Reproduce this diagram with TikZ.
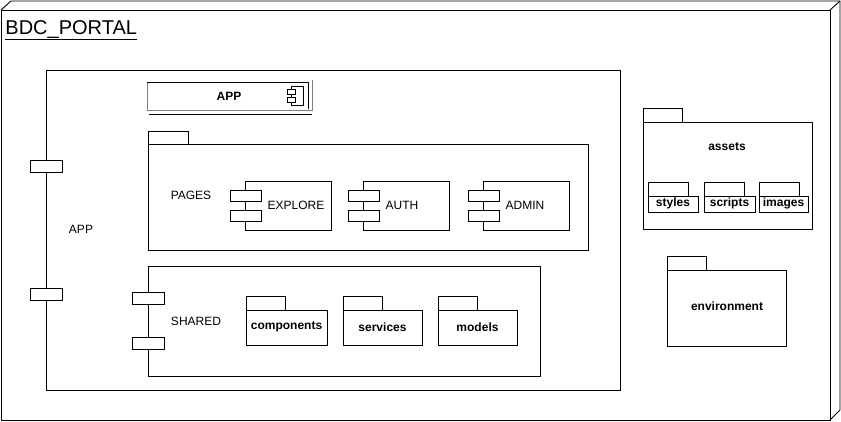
\documentclass[tikz,border=0pt]{standalone}
\usepackage{fontspec}
\setmainfont{Liberation Sans}
\usepackage{tikz}
\usetikzlibrary{
  positioning,
  arrows.meta
}
\usepackage{xcolor}

\begin{document}
\begin{tikzpicture}[x=1pt,y=-1pt,line width=0.9pt,
                lbl/.style={font=\fontsize{12}{14}\selectfont,inner sep=0pt},
                blbl/.style={font=\fontsize{12}{14}\selectfont\bfseries,inner sep=0pt},
                port/.style={draw,fill=white,line width=0.9pt}]
                \useasboundingbox (0,0) rectangle (841,421);
                % node BDC_PORTAL
                \draw (1,10) -- (11,1) -- (840,1) -- (840,410) -- (830,420);
                \draw (830,10) -- (840,1);
                \draw (1,10) rectangle (830,420);
                \node[anchor=base west,inner sep=0pt,font=\fontsize{20}{24}\selectfont] (portal) at (5,34) {\underline{BDC\_PORTAL}};
                % component APP
                \draw (46,70) rectangle (620,390);
                \draw[port] (30,160) rectangle (62,172);
                \draw[port] (30,288) rectangle (62,300);
                \node[lbl] (app) at (81,229) {APP};
                % APP module
                \draw[gray] (147,82) -- (147,110) -- (312,110) -- (312,80);
                \draw (147,82) -- (308,82) -- (308,109);
                \draw (149,114) -- (312,114);
                \draw[line width=0.8pt] (291,86) rectangle (303,105);
                \draw[port,line width=0.8pt] (287,89) rectangle (295,94);
                \draw[port,line width=0.8pt] (287,97) rectangle (295,102);
                \node[blbl] (appmod) at (229,96) {APP};
                % PAGES
                \draw (148,131) rectangle (188,144);
                \draw (148,144) rectangle (588,250);
                \node[lbl] (pages) at (191,195) {PAGES};
                \foreach \bx/\nm/\tx/\lx in {245/explore/EXPLORE/296, 363/auth/AUTH/402, 483/admin/ADMIN/525} {
                    \draw (\bx,181) rectangle ++(86,49);
                    \draw[port] (\bx-15,190) rectangle ++(31,11);
                    \draw[port] (\bx-15,210) rectangle ++(31,11);
                    \node[lbl] (\nm) at (\lx,205) {\tx};
                }
                % SHARED
                \draw (148,266) rectangle (540,376);
                \draw[port] (132,292) rectangle (164,304);
                \draw[port] (132,337) rectangle (164,349);
                \node[lbl] (shared) at (196,321) {SHARED};
                \foreach \px/\pw/\nm in {246/81/components, 343/79/services, 438/79/models} {
                    \draw (\px,296) rectangle ++(39,14);
                    \draw (\px,310) rectangle ++(\pw,35);
                    \node[blbl] (\nm) at (\px+\pw/2,327) {\nm};
                }
                % assets
                \draw (643,108) rectangle (682,122);
                \draw (643,122) rectangle (812,229);
                \node[blbl] (assets) at (727,147) {assets};
                \foreach \px/\pw/\nm in {648/50/styles, 704/51/scripts, 759/49/images} {
                    \draw (\px,182) rectangle ++(40,14);
                    \draw (\px,196) rectangle ++(\pw,16);
                    \node[blbl] (\nm) at (\px+\pw/2,203) {\nm};
                }
                % environment
                \draw (667,256) rectangle (706,270);
                \draw (667,270) rectangle (786,346);
                \node[blbl] (environment) at (727,306) {environment};
            \end{tikzpicture}
\end{document}
